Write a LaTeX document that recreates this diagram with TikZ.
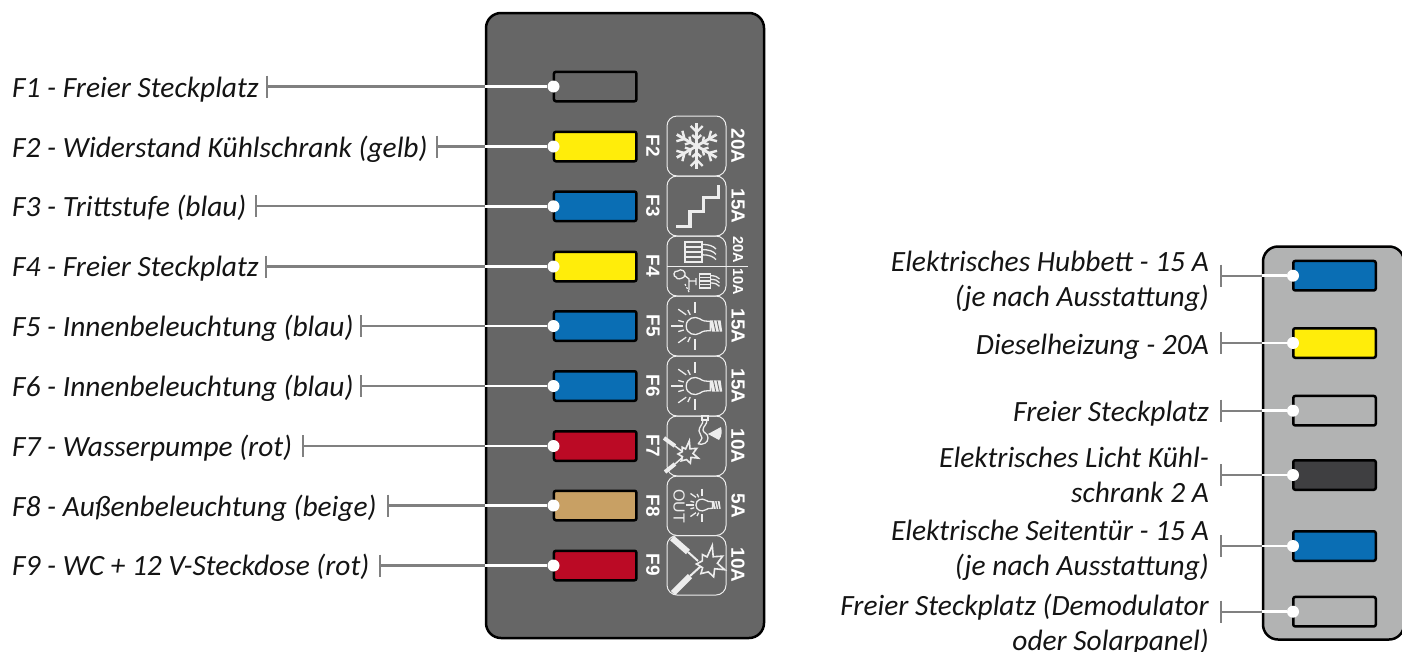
\documentclass[tikz,border=0pt]{standalone}
\usepackage{fontspec}
\setmainfont{Carlito}
\newfontfamily\boldsf{Liberation Sans}[BoldFont={Liberation Sans Bold}]
\definecolor{panelD}{HTML}{666666}
\definecolor{panelL}{HTML}{B2B3B3}
\definecolor{leadG}{HTML}{808080}
\definecolor{fuseB}{HTML}{0A6EB4}
\definecolor{fuseY}{HTML}{FFED0A}
\definecolor{fuseR}{HTML}{BB0A25}
\definecolor{fuseT}{HTML}{C8A064}
\definecolor{fuseK}{HTML}{3F3F41}
\definecolor{iconC}{HTML}{EDEDED}
\tikzset{
  panelbox/.style={draw=black,line width=2.5pt,rounded corners=15pt},
  fusebox/.style={draw=black,line width=2.5pt,rounded corners=2pt,minimum width=82.5pt,minimum height=29.5pt,inner sep=0pt},
  pindot/.style={circle,fill=white,minimum size=12pt,inner sep=0pt},
  leadgray/.style={draw=leadG,line width=2.2pt},
  leadwhite/.style={draw=white,line width=2.5pt},
  labeltext/.style={font=\fontsize{29.4}{35}\selectfont\itshape,text=black!92,inner sep=0pt,align=right},
  iconbox/.style={draw=iconC,line width=1pt,rounded corners=10pt},
  icl/.style={draw=iconC,line width=1.3pt},
  amp/.style={font=\boldsf\bfseries\fontsize{19}{19}\selectfont,text=white,rotate=-90,inner sep=0pt},
  ampS/.style={font=\boldsf\bfseries\fontsize{14.5}{14.5}\selectfont,text=white,rotate=-90,inner sep=0pt},
}
\newcommand{\bulbicon}[3]{%
  \begin{scope}[shift={(#1,#2)},scale=#3]
    \draw[icl] (6,-9) .. controls (0,-13) and (-11,-10) .. (-11,0) .. controls (-11,10) and (0,13) .. (6,9) .. controls (10,6) and (13,6) .. (19,6) -- (19,-6) .. controls (13,-6) and (10,-6) .. (6,-9);
    \fill[iconC] (19,-7) -- (32,-7) -- (34,7) -- (21,7) -- cycle;
    \foreach \s in {23,27.5}{\draw[panelD,line width=.8pt] (\s,-7) -- (\s+3,7);}
    \foreach \a/\b/\c/\d in {0/-30/0/-16, 0/16/0/30, -30/0/-15/0, -21/-21/-11/-14, -21/21/-11/14, -9/-20/-6/-14, -9/20/-6/14, -21/-7/-14/-5, -21/7/-14/5}{
      \draw[icl] (\a,\b) -- (\c,\d);}
  \end{scope}}
\newcommand{\sparkicon}[3]{%
  \begin{scope}[shift={(#1,#2)},scale=#3]
    \draw[icl,line width=1.6pt,fill=panelD,line join=miter]
      (20:16) -- (40:7) -- (70:13) -- (95:7.5) -- (130:12) -- (150:7) -- (180:12) -- (205:7) -- (235:11) -- (255:7) -- (280:18) -- (300:8) -- (330:15) -- (355:8) -- cycle;
  \end{scope}}
\newcommand{\snowarm}[1]{%
  \begin{scope}[rotate=#1]
    \draw[draw=iconC,line width=2.8pt] (0,0) -- (0,-23);
    \draw[draw=iconC,line width=2.4pt] (-6,-20) -- (0,-14) -- (6,-20);
    \draw[draw=iconC,line width=2.4pt] (-4.5,-11) -- (0,-7) -- (4.5,-11);
  \end{scope}}
\newcommand{\ventgrid}[5]{% x y w h fan
  \draw[icl] (#1,#2) rectangle ++(#3,#4);
  \draw[icl] (#1,#2+#4*.25) -- ++(#3,0) (#1,#2+#4*.5) -- ++(#3,0) (#1,#2+#4*.75) -- ++(#3,0);
  \draw[icl] (#1+#3,#2+#4*.12) .. controls (#1+#3+#5*.5,#2+#4*.12) and (#1+#3+#5*.8,#2+#4*.2) .. (#1+#3+#5,#2+#4*.35);
  \draw[icl] (#1+#3,#2+#4*.38) .. controls (#1+#3+#5*.5,#2+#4*.38) and (#1+#3+#5*.8,#2+#4*.45) .. (#1+#3+#5,#2+#4*.62);
  \draw[icl] (#1+#3,#2+#4*.64) .. controls (#1+#3+#5*.5,#2+#4*.64) and (#1+#3+#5*.8,#2+#4*.72) .. (#1+#3+#5,#2+#4*.88);
}
\begin{document}
\begin{tikzpicture}[x=1pt,y=-1pt]
\useasboundingbox (0,0) rectangle (1402,651);
% panels
\draw[panelbox,fill=panelD] (486,13) rectangle (764,638);
\draw[panelbox,fill=panelL] (1263,246.5) rectangle (1404,639.5);
% left fuses
\foreach \n/\y/\c/\t in {1/86.5/panelD/267, 2/146.5/fuseY/436.7, 3/206.3/fuseB/255.7, 4/266.5/fuseY/265.7, 5/326/fuseB/360.7, 6/386/fuseB/360.7, 7/446/fuseR/303, 8/505.5/fuseT/388, 9/565.5/fuseR/380}{
  \node[fusebox,fill=\c] (f\n) at (595.2,\y) {};
  \node[pindot] (d\n) at (553.5,\y) {};
  \coordinate (e\n) at (485,\y);
  \coordinate (t\n) at (\t,\y);
  \draw[leadgray] (t\n) -- (e\n);
  \draw[leadgray] ([yshift=11pt]t\n) -- ([yshift=-11pt]t\n);
  \draw[leadwhite] (e\n) -- (d\n);
}
% right fuses
\foreach \n/\y/\c in {1/275.7/fuseB, 2/343/fuseY, 3/410.7/panelL, 4/475/fuseK, 5/546/fuseB, 6/611.7/panelL}{
  \node[fusebox,fill=\c] (g\n) at (1334.5,\y) {};
  \node[pindot] (h\n) at (1293,\y) {};
  \coordinate (k\n) at (1262,\y);
  \coordinate (u\n) at (1220.7,\y);
  \draw[leadgray] (u\n) -- (k\n);
  \draw[leadgray] ([yshift=11pt]u\n) -- ([yshift=-11pt]u\n);
  \draw[leadwhite] (k\n) -- (h\n);
}
% left labels
\foreach \n/\y/\s in {1/97.3/{F1 - Freier Steckplatz},2/157/{F2 - Widerstand Kühlschrank (gelb)},3/216.7/{F3 - Trittstufe (blau)},4/276.7/{F4 - Freier Steckplatz},5/336.7/{F5 - Innenbeleuchtung (blau)},6/396.7/{F6 - Innenbeleuchtung (blau)},7/456.7/{F7 - Wasserpumpe (rot)},8/516.7/{F8 - Außenbeleuchtung (beige)},9/575.3/{F9 - WC + 12 V-Steckdose (rot)}}{
  \node[labeltext,anchor=base west] (l\n) at (12,\y) {\s};
}
% right labels
\node[labeltext,anchor=east] (r1) at (1209,281) {Elektrisches Hubbett - 15 A\\(je nach Ausstattung)};
\node[labeltext,anchor=east] (r2) at (1209,347) {Dieselheizung - 20A};
\node[labeltext,anchor=east] (r3) at (1209,414) {Freier Steckplatz};
\node[labeltext,anchor=east] (r4) at (1209,475) {Elektrisches Licht Kühl-\\schrank 2 A};
\node[labeltext,anchor=east] (r5) at (1209,550.5) {Elektrische Seitentür - 15 A\\(je nach Ausstattung)};
\node[labeltext,anchor=east] (r6) at (1209,624.5) {Freier Steckplatz (Demodulator\\oder Solarpanel)};
% icon boxes
\foreach \a/\b in {116/176,176/236,236/296,296/356,356/416,416/476,476/535.5,535.5/595}{
  \draw[iconbox] (667,\a) rectangle (726,\b);
}
% fuse numbers
\foreach \n/\y in {2/146,3/206,4/266,5/326,6/386,7/446,8/506,9/565}{
  \node[amp] (fn\n) at (653,\y) {F\n};
}
% amps
\node[amp] (a2) at (738,146) {20A};
\node[amp] (a3) at (738,206) {15A};
\node[ampS] (a4) at (738,250) {20A};
\node[ampS] (a4b) at (738,282) {10A};
\node[amp] (a5) at (738,326) {15A};
\node[amp] (a6) at (738,386) {15A};
\node[amp] (a7) at (738,446) {10A};
\node[amp] (a8) at (738,506) {5A};
\node[amp] (a9) at (738,565) {10A};
% snowflake
\begin{scope}[shift={(696.7,146)}]
  \foreach \r in {0,60,120,180,240,300}{\snowarm{\r}}
\end{scope}
% stairs
\draw[draw=iconC,line width=3.4pt] (676,226.7) -- (690,226.7) -- (690,211.7) -- (703.3,211.7) -- (703.3,197.3) -- (718.3,197.3) -- (718.3,185);
% F4 icon
\draw[iconC,line width=1pt] (667,266) -- (748,266);
\ventgrid{685}{242}{17}{20}{14}
\ventgrid{699.5}{274}{11}{14}{9}
\draw[icl] (684,277) .. controls (688,271) and (680,268) .. (678,271) .. controls (673,270) and (673,277) .. (676,277) .. controls (677,280) and (681,279) .. (684,277);
\draw[icl] (684,275) -- (689,279) -- (689,290) (689,281) -- (696,281) (696,278) -- (696,285);
\draw[icl,dash pattern=on 2pt off 1.5pt] (685,284) -- (689,292);
% bulbs
\bulbicon{695}{326}{.8}
\bulbicon{695}{386}{.8}
\bulbicon{702}{505}{.55}
% OUT
\node[font=\boldsf\fontsize{16}{16}\selectfont,text=iconC,rotate=-90,inner sep=0pt] (out) at (679,506) {OUT};
% F7 icon
\draw[draw=iconC,line width=4pt] (664,438) -- (675,446);
\draw[icl,line width=1.5pt] (675,446) -- (683,452);
\draw[draw=iconC,line width=4pt] (665,472) -- (675,464);
\draw[icl,line width=1.5pt] (675,464) -- (683,457);
\sparkicon{687}{454}{.75}
\draw[icl] (702,415.5) rectangle (708,420);
\draw[icl] (703,420) .. controls (703,425) and (699,426) .. (699,431) .. controls (699,434) and (702,435) .. (702,438) .. controls (702,441) and (699,441) .. (698,444) (707,420) .. controls (707,425) and (703,426) .. (703,430) .. controls (703,433) and (708,433) .. (708,438) .. controls (708,443) and (703,445) .. (698,444);
\fill[iconC] (708,434) -- (721,427) .. controls (722,431) and (722,436) .. (719,440) -- cycle;
% F9 icon
\draw[draw=iconC,line width=6pt] (672,538) -- (688,552);
\draw[icl,line width=2pt] (688,552) -- (698,561);
\draw[draw=iconC,line width=6pt] (673,593) -- (690,576);
\draw[icl,line width=2pt] (690,576) -- (701,566);
\sparkicon{709}{564}{1.05}
\end{tikzpicture}
\end{document}
